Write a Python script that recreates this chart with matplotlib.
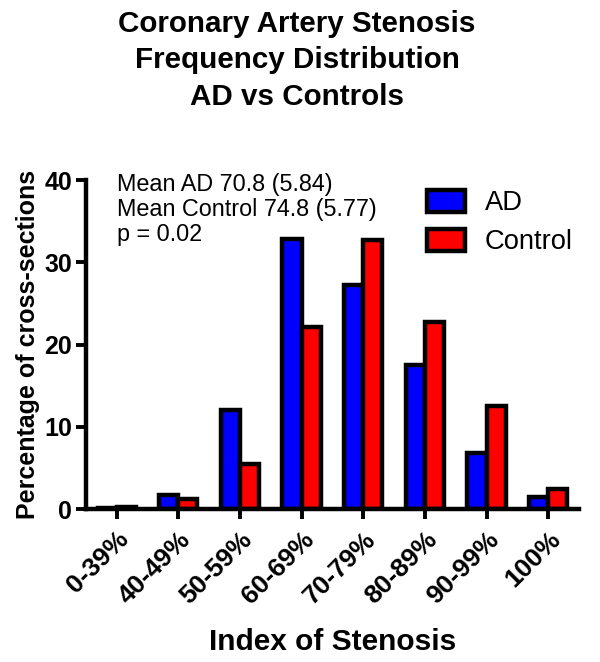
import matplotlib
matplotlib.use("Agg")
import matplotlib.pyplot as plt
import numpy as np

plt.rcParams['font.family'] = ['Liberation Sans', 'DejaVu Sans']

categories = ["0-39%", "40-49%", "50-59%", "60-69%", "70-79%", "80-89%", "90-99%", "100%"]
ad = [0.1, 1.7, 12.0, 32.8, 27.2, 17.5, 6.8, 1.5]
control = [0.2, 1.2, 5.5, 22.1, 32.7, 22.7, 12.5, 2.4]
yticks = [0, 10, 20, 30, 40]

LW = 3.2
fig = plt.figure(figsize=(6, 6.62), dpi=100)
ax = fig.add_axes([0.143, 0.231, 0.822, 0.497])

x = np.arange(len(categories))
w = 0.31
ax.bar(x - w/2, ad, w, color="#0000ff", edgecolor="black", linewidth=LW, label="AD")
ax.bar(x + w/2, control, w, color="#ff0000", edgecolor="black", linewidth=LW, label="Control")

ax.set_xlim(-0.5, 7.5)
ax.set_ylim(0, 40)
ax.set_yticks(yticks)
ax.set_xticks(x)
ax.set_xticklabels(categories, rotation=45, ha="right", va="top", rotation_mode="anchor",
                   fontsize=19, fontweight="bold")
for t in ax.get_yticklabels():
    t.set_fontsize(18)
    t.set_fontweight("bold")

for s in ["top", "right"]:
    ax.spines[s].set_visible(False)
for s in ["left", "bottom"]:
    ax.spines[s].set_linewidth(LW)
ax.tick_params(axis="both", length=7, width=2.8, direction="out", pad=3)
ax.tick_params(axis="x", pad=6)

ax.set_ylabel("Percentage of cross-sections", fontsize=18, fontweight="bold", labelpad=3)
ax.set_xlabel("Index of Stenosis", fontsize=21.5, fontweight="bold", labelpad=14)

ax.text(117/600, 1 - 173/662, "Mean AD 70.8 (5.84)\nMean Control 74.8 (5.77)\np = 0.02",
        transform=fig.transFigure, fontsize=16.8, va="top", ha="left", linespacing=1.12)

ax.legend(loc="upper left", bbox_to_anchor=(427/600, 1 - 190/662), bbox_transform=fig.transFigure,
          frameon=False, fontsize=19.7, handlelength=1.4, handleheight=0.85,
          handletextpad=0.7, labelspacing=0.45, borderpad=0, borderaxespad=0)

fig.text(0.495, 1 - 10/662, "Coronary Artery Stenosis\nFrequency Distribution\nAD vs Controls",
         ha="center", va="top", fontsize=21.3, fontweight="bold", linespacing=1.38)

fig.savefig("out.png", dpi=100)
